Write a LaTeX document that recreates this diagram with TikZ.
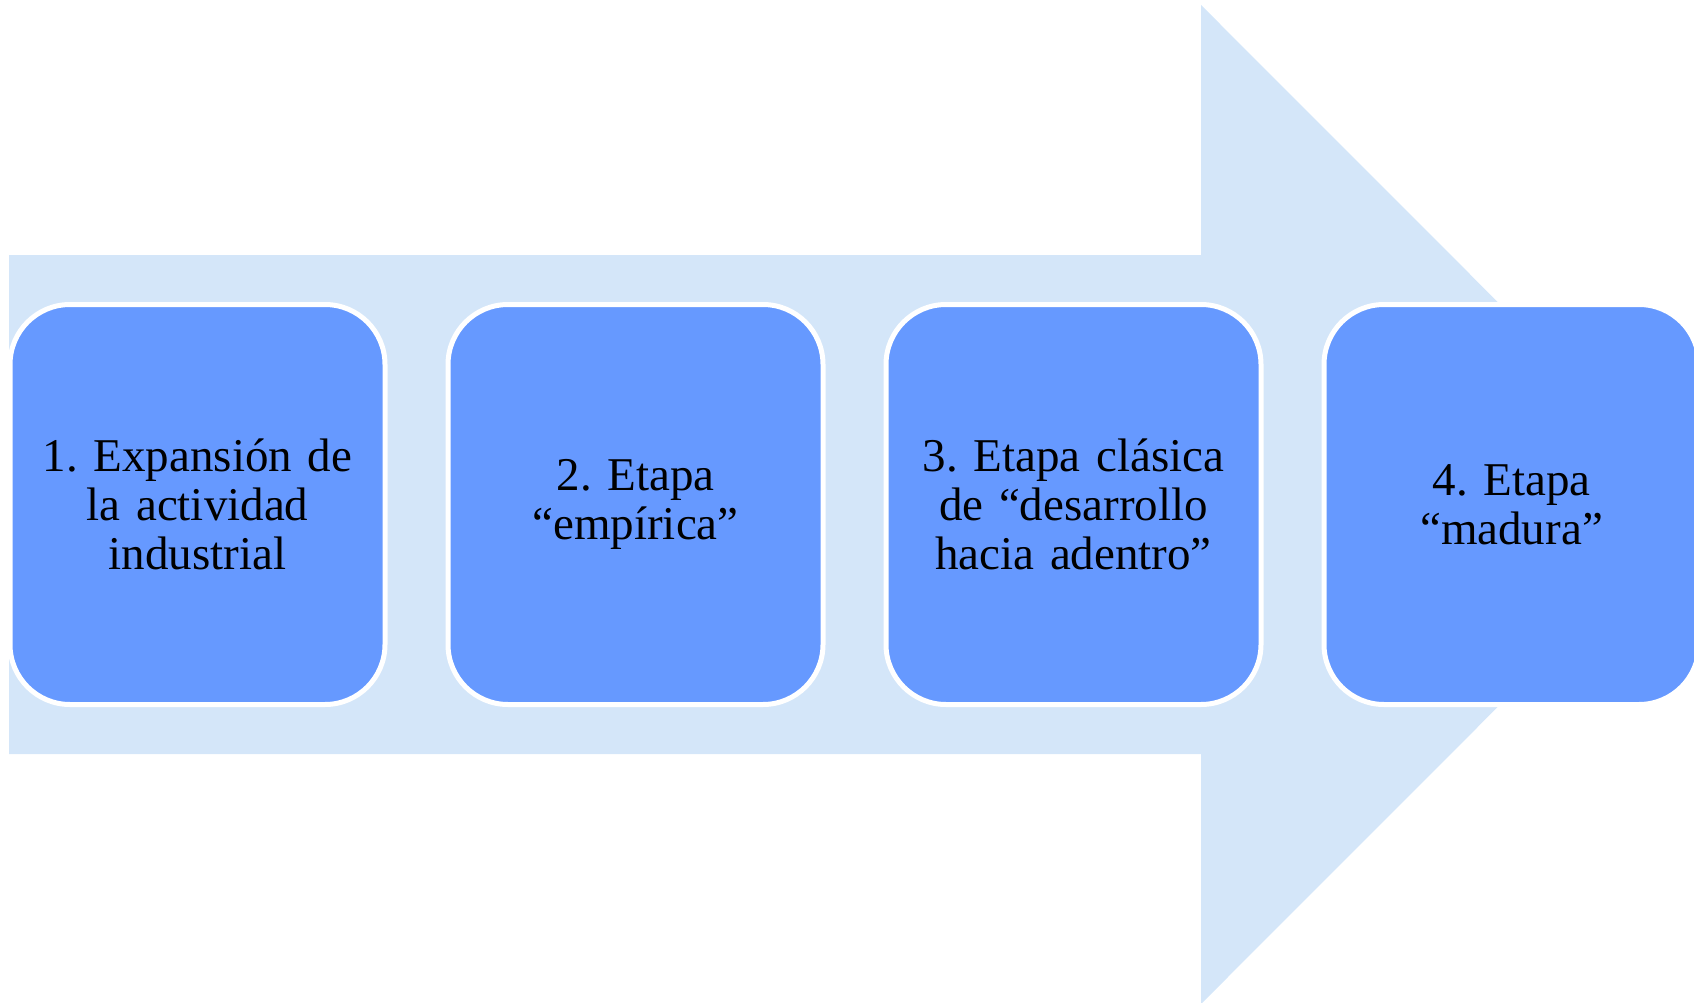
\documentclass[tikz,border=0pt]{standalone}
\usepackage{fontspec}
\setmainfont{Liberation Serif}
\frenchspacing
\definecolor{arrowblue}{HTML}{D4E6F9}
\definecolor{stageblue}{HTML}{6699FF}
\tikzset{
  stage/.style={draw=white, line width=5pt, fill=stageblue, rounded corners=60pt,
    minimum width=375pt, minimum height=400pt, text width=360pt, align=center,
    font=\fontsize{47}{49}\selectfont, inner sep=0pt}
}
\begin{document}
\begin{tikzpicture}[x=1pt,y=-1pt]
\clip (0,0) rectangle (1694,1003);

% big arrow behind the stages
\fill[arrowblue] (9,255) -- (1201,255) -- (1201,5) -- (1700,504.5)
  -- (1201,1004) -- (1201,754) -- (9,754) -- cycle;

\node[stage] (s1) at (197.5,504.5) {1. Expansión de\\la actividad\\industrial};
\node[stage] (s2) at (635.5,504.5) {2. Etapa\\“empírica”};
\node[stage] (s3) at (1073.5,504.5) {3. Etapa clásica\\de “desarrollo\\hacia adentro”};
\node[stage] (s4) at (1511.5,504.5) {4. Etapa\\“madura”};
\end{tikzpicture}
\end{document}
